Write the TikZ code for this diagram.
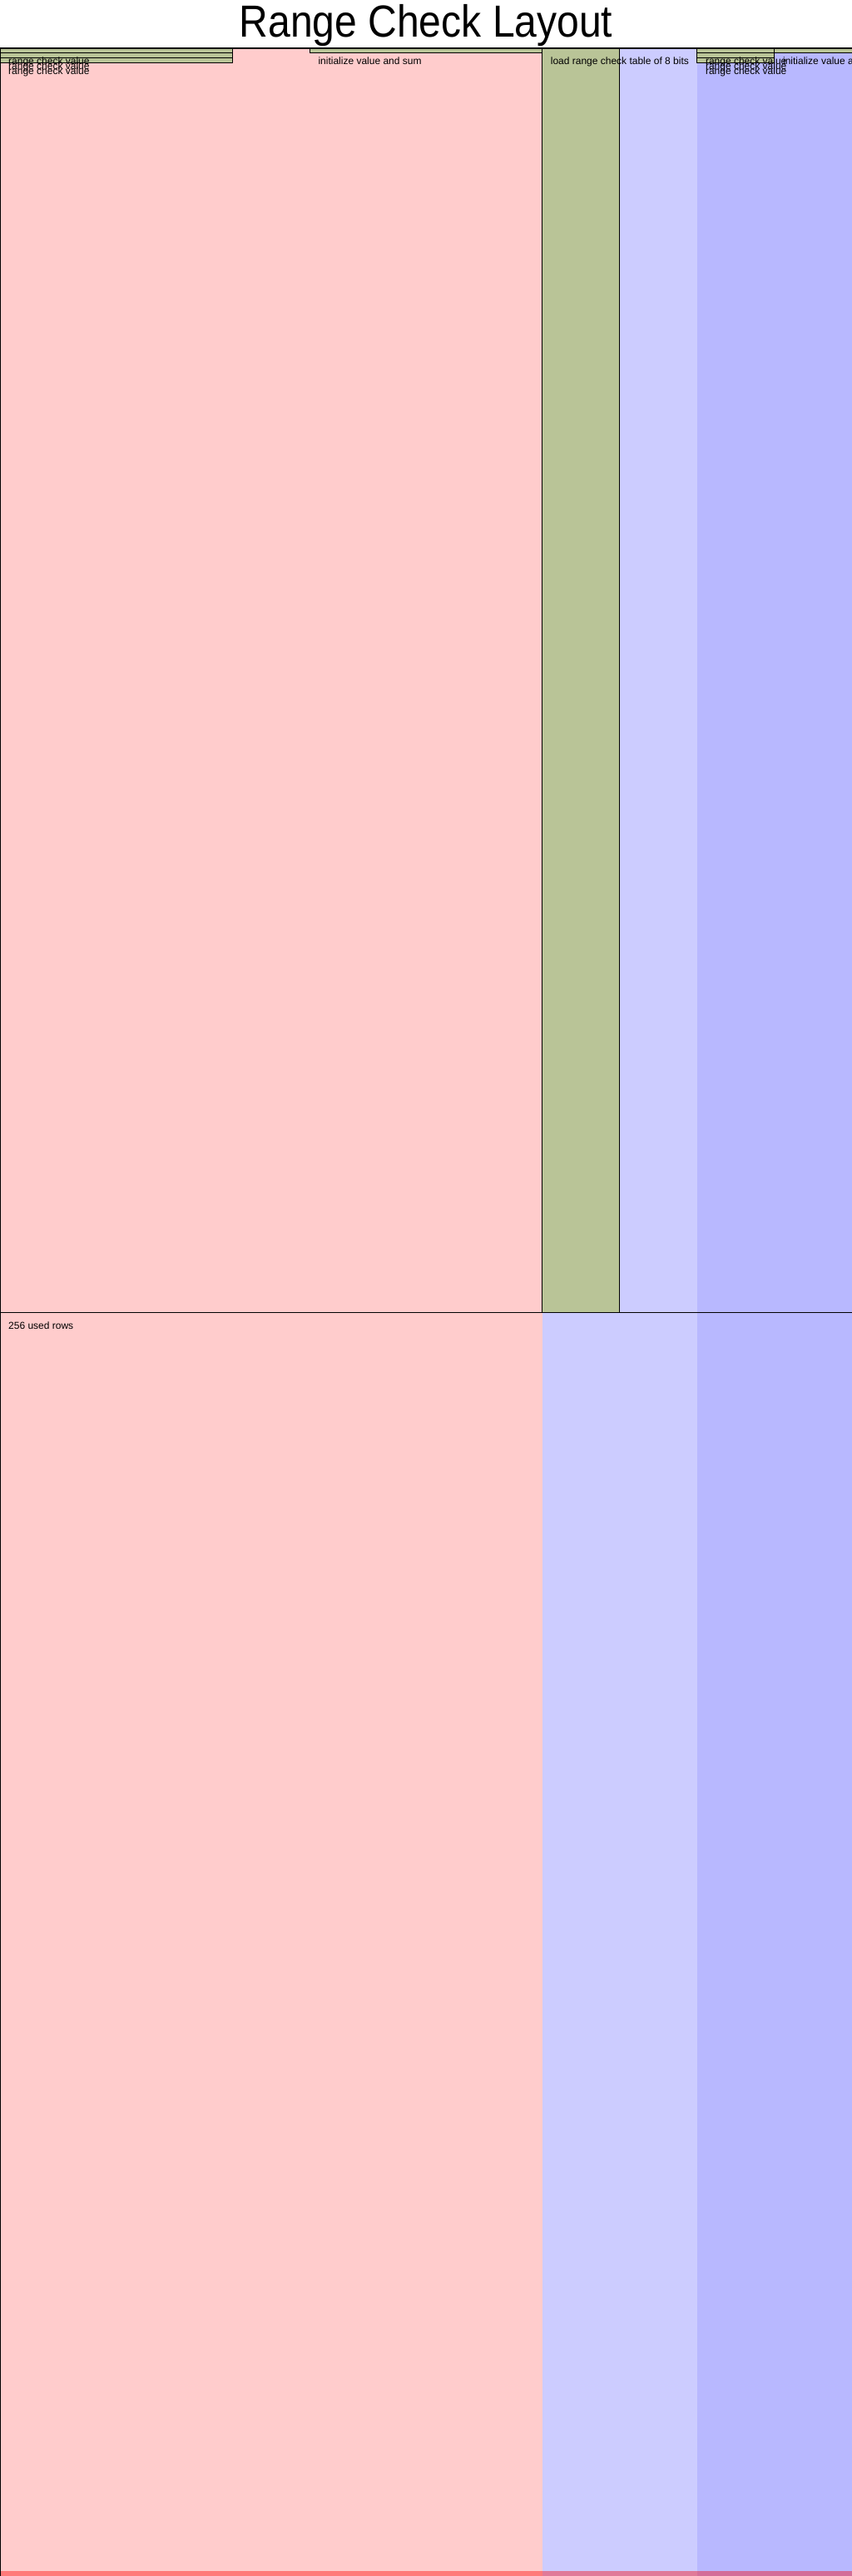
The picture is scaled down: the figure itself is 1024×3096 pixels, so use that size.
\documentclass[tikz,border=0pt]{standalone}
\usepackage{fontspec}
\setmainfont{Liberation Sans}
\definecolor{pinkc}{RGB}{255,204,204}
\definecolor{lbluec}{RGB}{204,204,255}
\definecolor{dbluec}{RGB}{184,184,255}
\definecolor{greenc}{RGB}{185,196,151}
\definecolor{redA}{RGB}{255,122,122}
\definecolor{redB}{RGB}{224,122,153}
\definecolor{redC}{RGB}{212,110,153}
\begin{document}
\begin{tikzpicture}[x=1pt,y=-1pt,
  lbl/.style={anchor=base west, inner sep=0pt, font=\fontsize{12}{14}\selectfont},
  regionbox/.style={draw=black, line width=1pt, fill=greenc},
  rule/.style={draw=black, line width=1.1pt}]
\useasboundingbox (0,0) rectangle (1024,3096);
\begin{scope}
\clip (0,0) rectangle (1024,3096);
% column backgrounds
\fill[pinkc] (0,58) rectangle (651.64,3096);
\fill[lbluec] (651.64,58) rectangle (837.82,3096);
\fill[dbluec] (837.82,58) rectangle (1024,3096);
% unusable row
\fill[redA] (0,3090.1) rectangle (651.64,3096);
\fill[redB] (651.64,3090.1) rectangle (837.82,3096);
\fill[redC] (837.82,3090.1) rectangle (1024,3096);
% regions
\draw[regionbox] (0,58) rectangle (279.27,63.93);
\draw[regionbox] (0,63.93) rectangle (279.27,69.87);
\draw[regionbox] (0,69.87) rectangle (279.27,75.80);
\draw[regionbox] (372.36,58) rectangle (651.64,63.93);
\draw[regionbox] (651.64,58) rectangle (744.73,1577.1);
\draw[regionbox] (837.82,58) rectangle (930.91,63.93);
\draw[regionbox] (837.82,63.93) rectangle (930.91,69.87);
\draw[regionbox] (837.82,69.87) rectangle (930.91,75.80);
\draw[regionbox] (930.91,58) rectangle (1040,63.93);
% border and used-rows marker
\draw[rule] (0.55,3096) -- (0.55,58) -- (1024,58);
\draw[rule] (0,1577.1) -- (1024,1577.1);
% labels
\node[lbl] (rcA) at (10,78) {range check value};
\node[lbl] (rcB) at (10,83.93) {range check value};
\node[lbl] (rcC) at (10,89.87) {range check value};
\node[lbl] (initA) at (382.36,78) {initialize value and sum};
\node[lbl] (load) at (661.64,78) {load range check table of 8 bits};
\node[lbl] (rcD) at (847.82,78) {range check value};
\node[lbl] (rcE) at (847.82,83.93) {range check value};
\node[lbl] (rcF) at (847.82,89.87) {range check value};
\node[lbl] (initB) at (940.91,78) {initialize value and sum};
\node[lbl] (used) at (10,1597.1) {256 used rows};
\end{scope}
\node[anchor=base, inner sep=0pt, font=\fontsize{54}{60}\selectfont] (title) at (512,45) {\scalebox{0.89}[1]{Range Check Layout}};
\end{tikzpicture}
\end{document}
